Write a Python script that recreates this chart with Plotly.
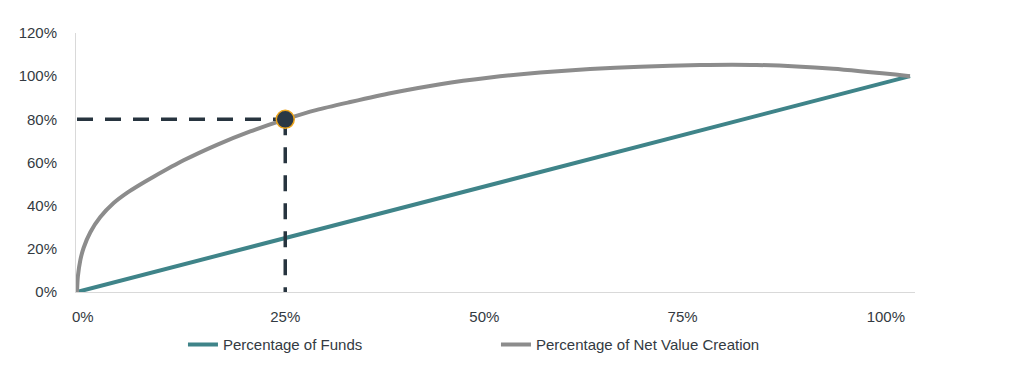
import plotly.graph_objects as go

# Data
funds_x = [0.0, 1.0]
funds_y = [0.0, 1.0]

nvc_x = [0.0, 0.001, 0.004, 0.008, 0.016, 0.028, 0.044, 0.06, 0.076, 0.092, 0.128,
         0.168, 0.208, 0.25, 0.288, 0.328, 0.376, 0.436, 0.496, 0.556, 0.616, 0.676,
         0.748, 0.816, 0.908, 1.0]
nvc_y = [0.0, 0.07, 0.148, 0.205, 0.277, 0.347, 0.412, 0.459, 0.498, 0.534, 0.610,
         0.682, 0.744, 0.80, 0.844, 0.880, 0.921, 0.963, 0.994, 1.017, 1.033, 1.044,
         1.052, 1.052, 1.034, 1.0]

highlight_x = 0.25
highlight_y = 0.80

x_tick_text = ["0%", "25%", "50%", "75%", "100%"]
x_tick_vals = [0.007, 0.25, 0.489, 0.727, 0.971]
y_tick_vals = [0, 0.2, 0.4, 0.6, 0.8, 1.0, 1.2]
y_tick_text = ["0%", "20%", "40%", "60%", "80%", "100%", "120%"]

TEAL = "#3f8489"
GRAY = "#8c8c8c"
NAVY = "#27343f"
TEXT = "#333a42"

fig = go.Figure()
fig.add_trace(go.Scatter(x=funds_x, y=funds_y, mode="lines", name="Percentage of Funds",
                         line=dict(color=TEAL, width=4)))
fig.add_trace(go.Scatter(x=nvc_x, y=nvc_y, mode="lines", name="Percentage of Net Value Creation",
                         line=dict(color=GRAY, width=4, shape="spline", smoothing=0.6)))
# dashed guides
fig.add_trace(go.Scatter(x=[0, highlight_x], y=[highlight_y, highlight_y], mode="lines",
                         showlegend=False, hoverinfo="skip",
                         line=dict(color=NAVY, width=3.5, dash="16px,12px")))
fig.add_trace(go.Scatter(x=[highlight_x, highlight_x], y=[highlight_y, 0], mode="lines",
                         showlegend=False, hoverinfo="skip",
                         line=dict(color=NAVY, width=3.5, dash="16px,12px")))
fig.add_trace(go.Scatter(x=[highlight_x], y=[highlight_y], mode="markers", showlegend=False,
                         marker=dict(size=18, color="#2b3845",
                                     line=dict(color="#eda41c", width=1.5))))

fig.update_layout(
    width=1016, height=372,
    margin=dict(l=68, r=109, t=25, b=88),
    paper_bgcolor="white", plot_bgcolor="white",
    font=dict(family="Liberation Sans, Arial, sans-serif", size=15, color=TEXT),
    showlegend=True,
    legend=dict(orientation="h", x=0.1275, xanchor="left", y=-0.14, yanchor="top",
                entrywidth=268, entrywidthmode="pixels",
                font=dict(size=15, color=TEXT), traceorder="normal"),
    xaxis=dict(range=[-0.0012, 1.006], showgrid=False, zeroline=False,
               showline=True, linecolor="#d9d9d9", linewidth=1,
               tickmode="array", tickvals=x_tick_vals, ticktext=x_tick_text,
               ticks="", ticklabelstandoff=11, fixedrange=True, automargin=False),
    yaxis=dict(range=[0, 1.2], showgrid=False, zeroline=False,
               showline=True, linecolor="#d9d9d9", linewidth=1,
               tickmode="array", tickvals=y_tick_vals, ticktext=y_tick_text,
               ticks="", ticklabelstandoff=15, fixedrange=True, automargin=False),
)

fig.write_html("out.html")
